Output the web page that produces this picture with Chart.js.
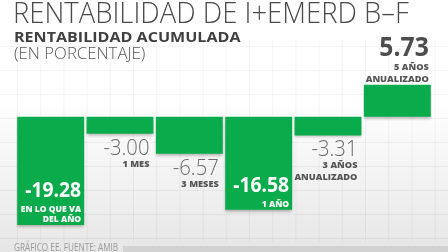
<!DOCTYPE html>
<html lang="es">
<head>
<meta charset="UTF-8">
<title>Rentabilidad de I+EMERD B-F</title>
<script src="https://cdn.jsdelivr.net/npm/chart.js"></script>
<style>
  html, body { margin: 0; padding: 0; }
  body {
    width: 448px; height: 252px; overflow: hidden; position: relative;
    background: linear-gradient(#ffffff 0%, #ffffff 40%, #e6e6e6 100%);
    font-family: "Open Sans", sans-serif; color: #444;
  }
  canvas { position: absolute; left: 0; top: 0; }
  .txt { position: absolute; white-space: nowrap; transform-origin: 0 0; line-height: 1; }
  #titulo { left: 13px; top: -3px; font-size: 29px; font-weight: 300; color: #4a4a4a; }
  #subtitulo { left: 14px; top: 29px; font-size: 15px; font-weight: 700; color: #404040; }
  #unidad { left: 14px; top: 45px; font-size: 16px; font-weight: 300; color: #555; }
  #fuente { left: 14px; top: 242px; font-size: 10px; font-weight: 400; color: #999; }
  #barra { position: absolute; left: 123px; top: 246px; width: 325px; height: 6px; background: #d2d2d2; }
</style>
</head>
<body>

<canvas id="grafica" width="448" height="252"></canvas>
<div class="txt" id="titulo">RENTABILIDAD DE I+EMERD B–F</div>
<div class="txt" id="subtitulo">RENTABILIDAD ACUMULADA</div>
<div class="txt" id="unidad">(EN PORCENTAJE)</div>
<div class="txt" id="fuente">GRÁFICO EE. FUENTE: AMIB</div>
<div id="barra"></div>

<script>
// datos
const periodos = [
  ['EN LO QUE VA', 'DEL AÑO'],
  ['1 MES'],
  ['3 MESES'],
  ['1 AÑO'],
  ['3 AÑOS', 'ANUALIZADO'],
  ['5 AÑOS', 'ANUALIZADO']
];
const valores = [-19.28, -3.00, -6.57, -16.58, -3.31, 5.73];

const verde = '#0aab4b';

// ajusta el ancho de los textos del encabezado
function ajustar(id, ancho) {
  const el = document.getElementById(id);
  el.style.transform = 'scaleX(' + (ancho / el.offsetWidth) + ')';
}

// cuadricula tenue del fondo
const cuadricula = {
  id: 'cuadricula',
  beforeDraw(chart) {
    const ctx = chart.ctx;
    ctx.save();
    ctx.strokeStyle = 'rgba(0,0,0,0.045)';
    ctx.lineWidth = 1;
    for (let x = 17.5; x < 448; x += 23.2) {
      ctx.beginPath(); ctx.moveTo(x, 40); ctx.lineTo(x, 242); ctx.stroke();
    }
    for (let y = 46.5; y < 242; y += 24) {
      ctx.beginPath(); ctx.moveTo(0, y); ctx.lineTo(448, y); ctx.stroke();
    }
    ctx.restore();
  }
};

// sombra de las barras
const sombra = {
  id: 'sombra',
  beforeDatasetDraw(chart) {
    const ctx = chart.ctx;
    ctx.save();
    ctx.shadowColor = 'rgba(0,0,0,0.3)';
    ctx.shadowBlur = 3;
    ctx.shadowOffsetY = 2;
  },
  afterDatasetDraw(chart) {
    chart.ctx.restore();
  }
};

function texto(ctx, s, x, y, escala) {
  ctx.save();
  ctx.translate(x, y);
  ctx.scale(escala, 1);
  ctx.fillText(s, 0, 0);
  ctx.restore();
}

// etiquetas de valor y periodo
const etiquetas = {
  id: 'etiquetas',
  afterDatasetsDraw(chart) {
    const ctx = chart.ctx;
    const meta = chart.getDatasetMeta(0);
    const chica = '800 9.5px "Open Sans"';
    meta.data.forEach((bar, i) => {
      const v = valores[i];
      const lineas = periodos[i];
      const derecha = bar.x + bar.width / 2 - 2;
      const num = v.toFixed(2);
      ctx.save();
      ctx.textAlign = 'right';
      ctx.textBaseline = 'alphabetic';
      if (v > 0) {
        const top = bar.y;
        ctx.fillStyle = '#4d4d4d';
        ctx.font = '700 26px "Open Sans"';
        texto(ctx, num, derecha, top - 29, 0.95);
        ctx.fillStyle = '#555';
        ctx.font = chica;
        lineas.forEach((l, k) => {
          texto(ctx, l, derecha, top - 3 - 12 * (lineas.length - 1 - k), 0.97);
        });
      } else if (v < -10) {
        const fondo = bar.y;
        ctx.fillStyle = '#ffffff';
        ctx.font = chica;
        lineas.forEach((l, k) => {
          texto(ctx, l, derecha - 1, fondo - 3 - 10 * (lineas.length - 1 - k), 0.9);
        });
        ctx.font = '700 21px "Open Sans"';
        texto(ctx, num, derecha - 1, fondo - 4 - 10 * lineas.length - 4, 0.92);
      } else {
        const fondo = bar.y;
        ctx.fillStyle = '#6a6a6a';
        ctx.font = '300 22px "Open Sans"';
        texto(ctx, num, derecha - 2, fondo + 21, 0.92);
        ctx.fillStyle = '#555';
        ctx.font = chica;
        lineas.forEach((l, k) => {
          texto(ctx, l, derecha - 2, fondo + 33 + 12 * k, 0.97);
        });
      }
      ctx.restore();
    });
  }
};

document.fonts.ready.then(() => {
  ajustar('titulo', 396);
  ajustar('subtitulo', 226);
  ajustar('unidad', 131);
  ajustar('fuente', 104);

  const ctx = document.getElementById('grafica').getContext('2d');
  new Chart(ctx, {
    type: 'bar',
    data: {
      labels: periodos,
      datasets: [{
        data: valores,
        backgroundColor: verde,
        borderWidth: 0,
        categoryPercentage: 1,
        barPercentage: 0.965
      }]
    },
    options: {
      responsive: false,
      animation: false,
      layout: { padding: { left: 16, right: 16, top: 72, bottom: 23 } },
      plugins: { legend: { display: false }, tooltip: { enabled: false } },
      scales: {
        x: { display: false },
        y: { display: false, min: -20, max: 8 }
      }
    },
    plugins: [cuadricula, sombra, etiquetas]
  });
});
</script>

</body>
</html>
